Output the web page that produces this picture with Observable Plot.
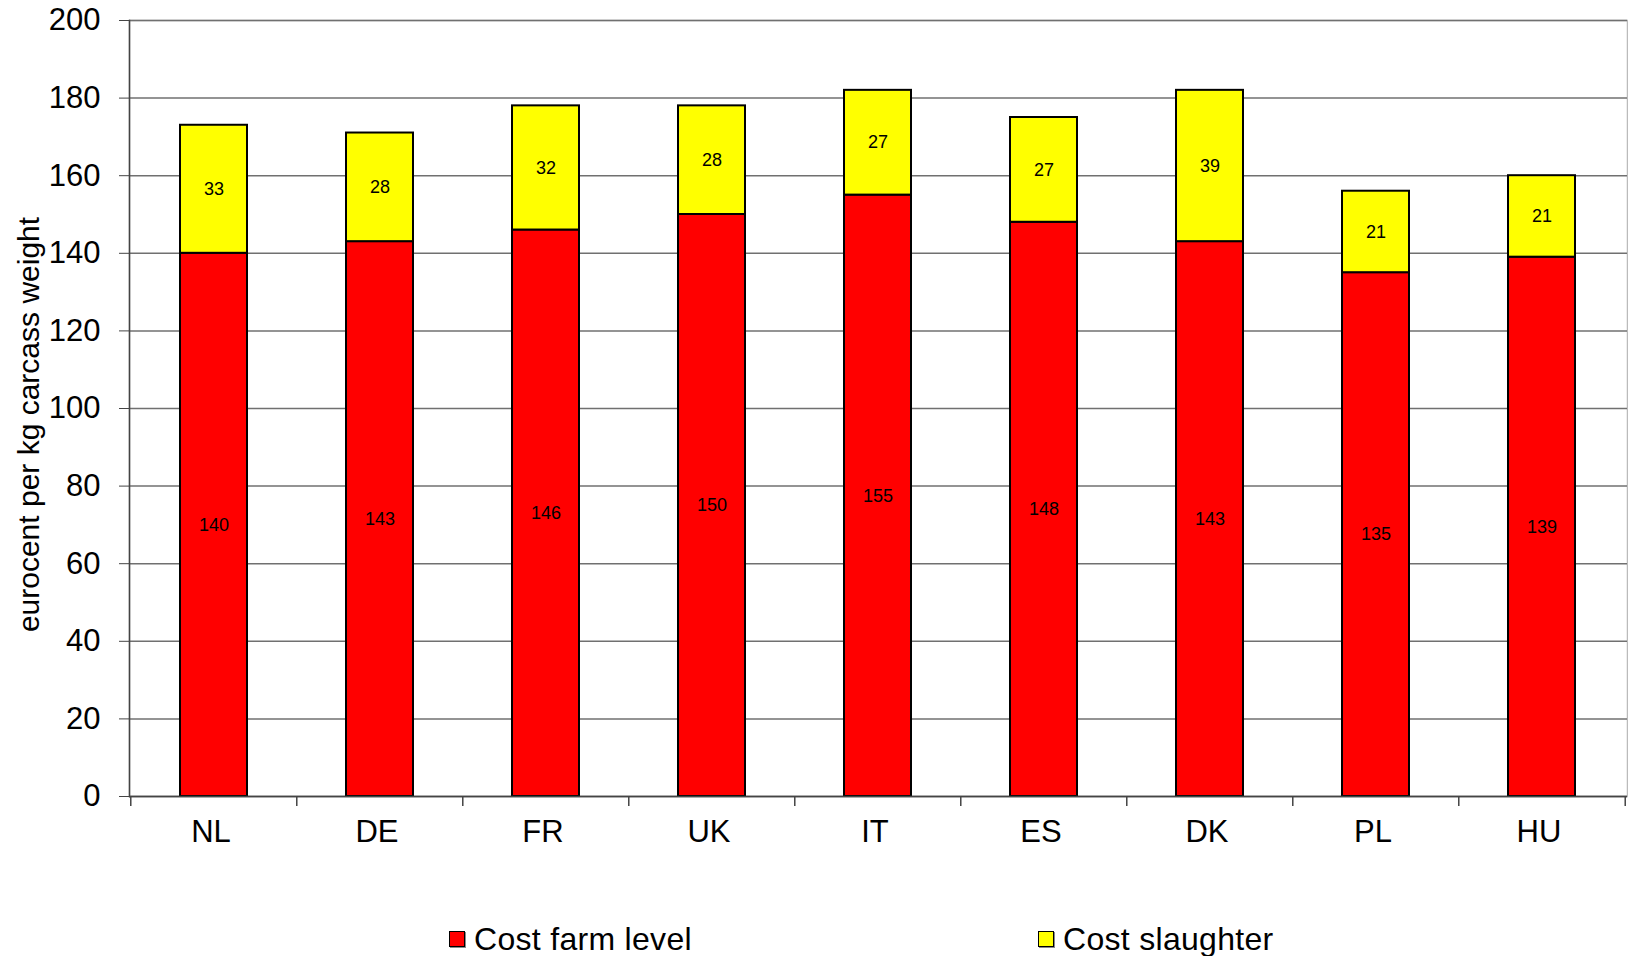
<!DOCTYPE html>
<html>
<head>
<meta charset="utf-8">
<script src="https://cdn.jsdelivr.net/npm/d3@7"></script>
<script src="https://cdn.jsdelivr.net/npm/@observablehq/plot@0.6"></script>
<style>
  html, body { margin: 0; padding: 0; background: #fff; }
  body { width: 1628px; height: 956px; position: relative; overflow: hidden; font-family: "Liberation Sans", Arial, sans-serif; }
  #legend { position: absolute; left: 0; top: 922px; width: 1628px; height: 34px; }
  .item { position: absolute; top: 0; display: flex; align-items: center; font-size: 32px; letter-spacing: 0.3px; color: #000; line-height: 34px; }
  .sw { width: 14px; height: 14px; border: 1.5px solid #000; margin-right: 9px; box-shadow: 1px 1px 0 #888; }
</style>
</head>
<body>
<div id="chart"></div>
<div id="legend"></div>
<script>
const countries = ["NL", "DE", "FR", "UK", "IT", "ES", "DK", "PL", "HU"];
const farmCost = [140, 143, 146, 150, 155, 148, 143, 135, 139];
const slaughterCost = [33, 28, 32, 28, 27, 27, 39, 21, 21];
const seriesNames = ["Cost farm level", "Cost slaughter"];
const seriesColors = ["#ff0000", "#ffff00"];
const yTicks = [0, 20, 40, 60, 80, 100, 120, 140, 160, 180, 200];
const yLabel = "eurocent per kg carcass weight";

const data = [];
countries.forEach((c, i) => {
  data.push({country: c, series: seriesNames[0], value: farmCost[i]});
  data.push({country: c, series: seriesNames[1], value: slaughterCost[i]});
});

const W = 1628, H = 880, mL = 129, mR = 1, mT = 20, mB = 84;
const step = (W - mL - mR) / countries.length;

const chart = Plot.plot({
  width: W, height: H,
  marginLeft: mL, marginRight: mR, marginTop: mT, marginBottom: mB,
  style: {fontFamily: "'Liberation Sans', Arial, sans-serif", background: "#fff", color: "#000"},
  x: {domain: countries, paddingInner: 0.595, paddingOuter: 0.2975, label: null},
  y: {domain: [0, 200], label: null},
  color: {domain: seriesNames, range: seriesColors},
  marks: [
    Plot.frame({stroke: "#bbb", strokeWidth: 1.5}),
    Plot.gridY(yTicks, {stroke: "#707070", strokeOpacity: 1, strokeWidth: 1.5}),
    Plot.barY(data, Plot.stackY({x: "country", y: "value", z: "series", fill: "series", stroke: "#000", strokeWidth: 2})),
    Plot.text(data, Plot.stackY({x: "country", y: "value", z: "series", text: d => String(d.value), fontSize: 18, fill: "#000"})),
    Plot.ruleY([0], {stroke: "#444", strokeWidth: 1.5}),
    Plot.frame({anchor: "left", stroke: "#444", strokeWidth: 1.5}),
    Plot.axisY(yTicks, {tickSize: 10, tickPadding: 19, fontSize: 31, stroke: "#444", label: null}),
    Plot.axisX({tickSize: 0, tickPadding: 23, fontSize: 31, dx: -3, label: null}),
    Plot.ruleX(countries, {x: d => d, y1: 0, y2: 0, dx: -step / 2, insetBottom: -10, stroke: "#444", strokeWidth: 1.5}),
    Plot.ruleX(countries.slice(-1), {x: d => d, y1: 0, y2: 0, dx: step / 2, insetBottom: -10, stroke: "#444", strokeWidth: 1.5}),
    Plot.text([yLabel], {frameAnchor: "left", text: d => d, rotate: -90, dx: -100, dy: 16, fontSize: 30, textAnchor: "middle", fill: "#000"})
  ]
});
document.getElementById("chart").appendChild(chart);

const legend = document.getElementById("legend");
const legendLeft = [449, 1038];
seriesNames.forEach((name, i) => {
  const item = document.createElement("div");
  item.className = "item";
  item.style.left = legendLeft[i] + "px";
  const sw = document.createElement("span");
  sw.className = "sw";
  sw.style.background = seriesColors[i];
  const t = document.createElement("span");
  t.textContent = name;
  item.appendChild(sw);
  item.appendChild(t);
  legend.appendChild(item);
});
</script>
</body>
</html>
